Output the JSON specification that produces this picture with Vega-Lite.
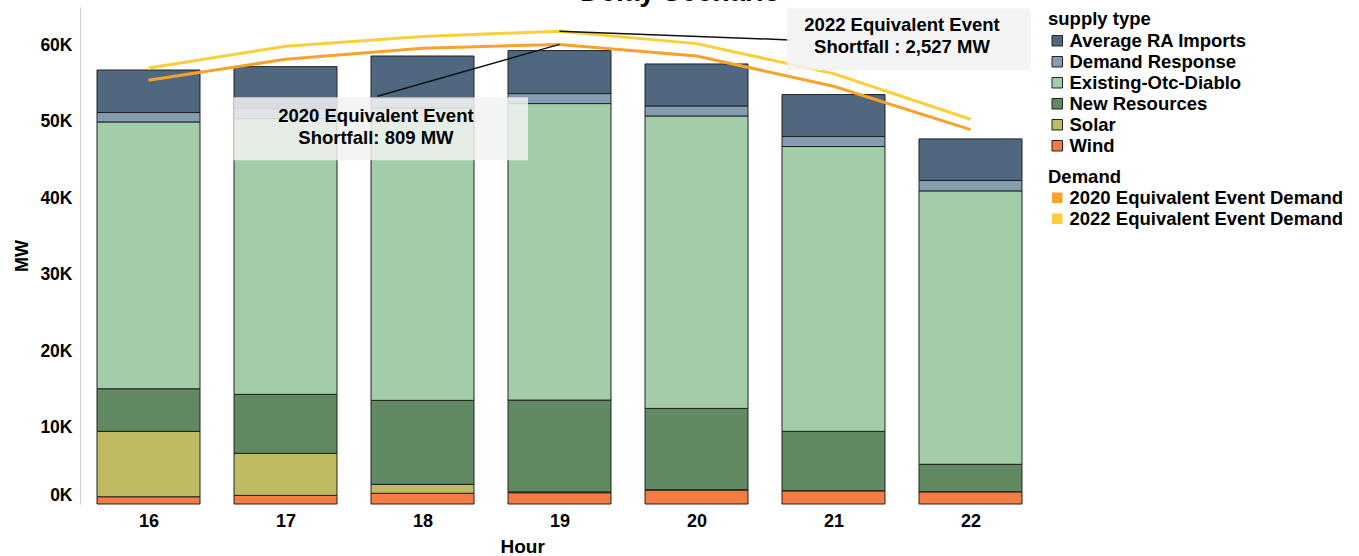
{
  "$schema": "https://vega.github.io/schema/vega-lite/v6.json",
  "width": 959,
  "height": 497,
  "autosize": "none",
  "padding": {"left": 80, "top": 7, "right": 320, "bottom": 52},
  "title": {"text": "Delay Scenario", "fontSize": 28, "font": "Liberation Sans", "fontWeight": "bold", "color": "#000", "offset": 0, "dx": 121},
  "config": {
    "font": "Liberation Sans",
    "view": {"stroke": null},
    "line": {"strokeWidth": 3},
    "legend": {"padding": 0}
  },
  "datasets": {
    "supply": [
      {"hour": 16, "type": "Wind", "MW": 950},
      {"hour": 16, "type": "Solar", "MW": 8550},
      {"hour": 16, "type": "New Resources", "MW": 5570},
      {"hour": 16, "type": "Existing-Otc-Diablo", "MW": 34900},
      {"hour": 16, "type": "Demand Response", "MW": 1230},
      {"hour": 16, "type": "Average RA Imports", "MW": 5560},
      {"hour": 17, "type": "Wind", "MW": 1130},
      {"hour": 17, "type": "Solar", "MW": 5500},
      {"hour": 17, "type": "New Resources", "MW": 7710},
      {"hour": 17, "type": "Existing-Otc-Diablo", "MW": 36070},
      {"hour": 17, "type": "Demand Response", "MW": 1310},
      {"hour": 17, "type": "Average RA Imports", "MW": 5480},
      {"hour": 18, "type": "Wind", "MW": 1400},
      {"hour": 18, "type": "Solar", "MW": 1170},
      {"hour": 18, "type": "New Resources", "MW": 10980},
      {"hour": 18, "type": "Existing-Otc-Diablo", "MW": 38250},
      {"hour": 18, "type": "Demand Response", "MW": 1300},
      {"hour": 18, "type": "Average RA Imports", "MW": 5490},
      {"hour": 19, "type": "Wind", "MW": 1480},
      {"hour": 19, "type": "Solar", "MW": 100},
      {"hour": 19, "type": "New Resources", "MW": 12010},
      {"hour": 19, "type": "Existing-Otc-Diablo", "MW": 38780},
      {"hour": 19, "type": "Demand Response", "MW": 1310},
      {"hour": 19, "type": "Average RA Imports", "MW": 5620},
      {"hour": 20, "type": "Wind", "MW": 1830},
      {"hour": 20, "type": "Solar", "MW": 50},
      {"hour": 20, "type": "New Resources", "MW": 10620},
      {"hour": 20, "type": "Existing-Otc-Diablo", "MW": 38250},
      {"hour": 20, "type": "Demand Response", "MW": 1310},
      {"hour": 20, "type": "Average RA Imports", "MW": 5490},
      {"hour": 21, "type": "Wind", "MW": 1740},
      {"hour": 21, "type": "Solar", "MW": 0},
      {"hour": 21, "type": "New Resources", "MW": 7760},
      {"hour": 21, "type": "Existing-Otc-Diablo", "MW": 37250},
      {"hour": 21, "type": "Demand Response", "MW": 1310},
      {"hour": 21, "type": "Average RA Imports", "MW": 5490},
      {"hour": 22, "type": "Wind", "MW": 1610},
      {"hour": 22, "type": "Solar", "MW": 0},
      {"hour": 22, "type": "New Resources", "MW": 3580},
      {"hour": 22, "type": "Existing-Otc-Diablo", "MW": 35760},
      {"hour": 22, "type": "Demand Response", "MW": 1360},
      {"hour": 22, "type": "Average RA Imports", "MW": 5440}
    ],
    "demand": [
      {"hour": 16, "Demand": "2020 Equivalent Event Demand", "MW": 55420},
      {"hour": 17, "Demand": "2020 Equivalent Event Demand", "MW": 58160},
      {"hour": 18, "Demand": "2020 Equivalent Event Demand", "MW": 59600},
      {"hour": 19, "Demand": "2020 Equivalent Event Demand", "MW": 60110},
      {"hour": 20, "Demand": "2020 Equivalent Event Demand", "MW": 58600},
      {"hour": 21, "Demand": "2020 Equivalent Event Demand", "MW": 54630},
      {"hour": 22, "Demand": "2020 Equivalent Event Demand", "MW": 48970},
      {"hour": 16, "Demand": "2022 Equivalent Event Demand", "MW": 57020},
      {"hour": 17, "Demand": "2022 Equivalent Event Demand", "MW": 59860},
      {"hour": 18, "Demand": "2022 Equivalent Event Demand", "MW": 61150},
      {"hour": 19, "Demand": "2022 Equivalent Event Demand", "MW": 61830},
      {"hour": 20, "Demand": "2022 Equivalent Event Demand", "MW": 60210},
      {"hour": 21, "Demand": "2022 Equivalent Event Demand", "MW": 56290},
      {"hour": 22, "Demand": "2022 Equivalent Event Demand", "MW": 50320}
    ],
    "connectors": [
      {"h1": 19, "v1": 60110, "h2": 17.67, "v2": 53330},
      {"h1": 19, "v1": 61830, "h2": 20.68, "v2": 60700}
    ],
    "boxes": [
      {"h1": 16.62, "h2": 18.77, "v1": 44960, "v2": 53190},
      {"h1": 20.66, "h2": 22.44, "v1": 56720, "v2": 64830}
    ],
    "notes": [
      {"h": 17.66, "v": 50750, "label": "2020 Equivalent Event\nShortfall: 809 MW"},
      {"h": 21.5, "v": 62700, "label": "2022 Equivalent Event\nShortfall : 2,527 MW"}
    ]
  },
  "layer": [
    {
      "data": {"name": "supply"},
      "mark": {"type": "bar", "orient": "vertical", "width": 103, "stroke": "#222", "strokeWidth": 1},
      "encoding": {
        "x": {
          "field": "hour", "type": "quantitative",
          "scale": {"domain": [15.5, 22.5], "nice": false, "zero": false, "padding": 0},
          "axis": {
            "title": "Hour", "values": [16, 17, 18, 19, 20, 21, 22], "format": "d",
            "labelFontSize": 18, "labelFontWeight": "bold", "labelColor": "#000",
            "ticks": false, "domain": false, "grid": false, "labelPadding": 8,
            "titleFontSize": 19, "titleFontWeight": "bold", "titleColor": "#000",
            "titleAnchor": "start", "titleAlign": "left", "titleX": 420, "titleY": 42, "titleBaseline": "middle"
          }
        },
        "y": {
          "field": "MW", "type": "quantitative", "stack": "zero",
          "scale": {"domain": [0, 65000], "nice": false},
          "axis": {
            "title": "MW", "titleFontSize": 18, "titleFontWeight": "bold", "titleColor": "#000", "titlePadding": 8,
            "labelFontSize": 17.5, "labelFontWeight": "bold", "labelColor": "#000",
            "labelExpr": "datum.value / 1000 + 'K'",
            "values": [0, 10000, 20000, 30000, 40000, 50000, 60000],
            "grid": false, "ticks": false, "labelPadding": 8, "domainColor": "#d0d0d0",
            "labelFlush": true, "labelFlushOffset": 0
          }
        },
        "color": {
          "field": "type", "type": "nominal",
          "scale": {
            "domain": ["Average RA Imports", "Demand Response", "Existing-Otc-Diablo", "New Resources", "Solar", "Wind"],
            "range": ["#4F6880", "#869CB0", "#A3CDA8", "#618A63", "#BFBB62", "#F47B42"]
          },
          "legend": {
            "title": "supply type", "orient": "none", "legendX": 968, "legendY": 3,
            "titleFontSize": 18.5, "titleFontWeight": "bold", "titleColor": "#000", "titlePadding": 3,
            "labelFontSize": 18.5, "labelFontWeight": "bold", "labelColor": "#000", "labelLimit": 400, "labelOffset": 3,
            "symbolType": "square", "symbolSize": 110, "symbolStrokeColor": "#222", "symbolStrokeWidth": 1,
            "rowPadding": 2
          }
        },
        "order": {"field": "type", "sort": "descending"}
      }
    },
    {
      "data": {"name": "demand"},
      "mark": {"type": "line"},
      "encoding": {
        "x": {"field": "hour", "type": "quantitative"},
        "y": {"field": "MW", "type": "quantitative"},
        "color": {
          "field": "Demand", "type": "nominal",
          "scale": {"domain": ["2020 Equivalent Event Demand", "2022 Equivalent Event Demand"], "range": ["#F9A22A", "#FBCE3A"]},
          "legend": null
        }
      }
    },
    {
      "data": {"name": "demand"},
      "mark": {"type": "square", "opacity": 0, "size": 1},
      "encoding": {
        "x": {"field": "hour", "type": "quantitative"},
        "y": {"field": "MW", "type": "quantitative"},
        "color": {
          "field": "Demand", "type": "nominal",
          "scale": {"domain": ["2020 Equivalent Event Demand", "2022 Equivalent Event Demand"], "range": ["#F9A22A", "#FBCE3A"]},
          "legend": {
            "title": "Demand", "orient": "none", "legendX": 968, "legendY": 161,
            "titleFontSize": 18.5, "titleFontWeight": "bold", "titleColor": "#000", "titlePadding": 2,
            "labelFontSize": 18.5, "labelFontWeight": "bold", "labelColor": "#000", "labelLimit": 400, "labelOffset": 3,
            "symbolType": "square", "symbolSize": 110, "symbolOpacity": 1, "symbolStrokeWidth": 0,
            "rowPadding": 2
          }
        }
      }
    },
    {
      "data": {"name": "connectors"},
      "mark": {"type": "rule", "color": "#111", "strokeWidth": 1.5},
      "encoding": {
        "x": {"field": "h1", "type": "quantitative"},
        "x2": {"field": "h2"},
        "y": {"field": "v1", "type": "quantitative"},
        "y2": {"field": "v2"}
      }
    },
    {
      "data": {"name": "boxes"},
      "mark": {"type": "rect", "fill": "#F2F2F2", "opacity": 0.85},
      "encoding": {
        "x": {"field": "h1", "type": "quantitative"},
        "x2": {"field": "h2"},
        "y": {"field": "v1", "type": "quantitative"},
        "y2": {"field": "v2"}
      }
    },
    {
      "data": {"name": "notes"},
      "mark": {"type": "text", "fontSize": 18.5, "fontWeight": "bold", "color": "#000", "align": "center", "baseline": "middle", "lineBreak": "\n", "lineHeight": 22},
      "encoding": {
        "x": {"field": "h", "type": "quantitative"},
        "y": {"field": "v", "type": "quantitative"},
        "text": {"field": "label"}
      }
    },
    {
      "mark": {"type": "rule", "color": "#888", "strokeDash": [6, 3], "strokeWidth": 1},
      "encoding": {"y": {"datum": 0, "type": "quantitative"}}
    },
    {
      "mark": {"type": "rule", "color": "#d8d8d8", "strokeWidth": 1},
      "encoding": {"x": {"datum": 22.48, "type": "quantitative"}}
    }
  ],
  "resolve": {"scale": {"color": "independent"}, "legend": {"color": "independent"}}
}
